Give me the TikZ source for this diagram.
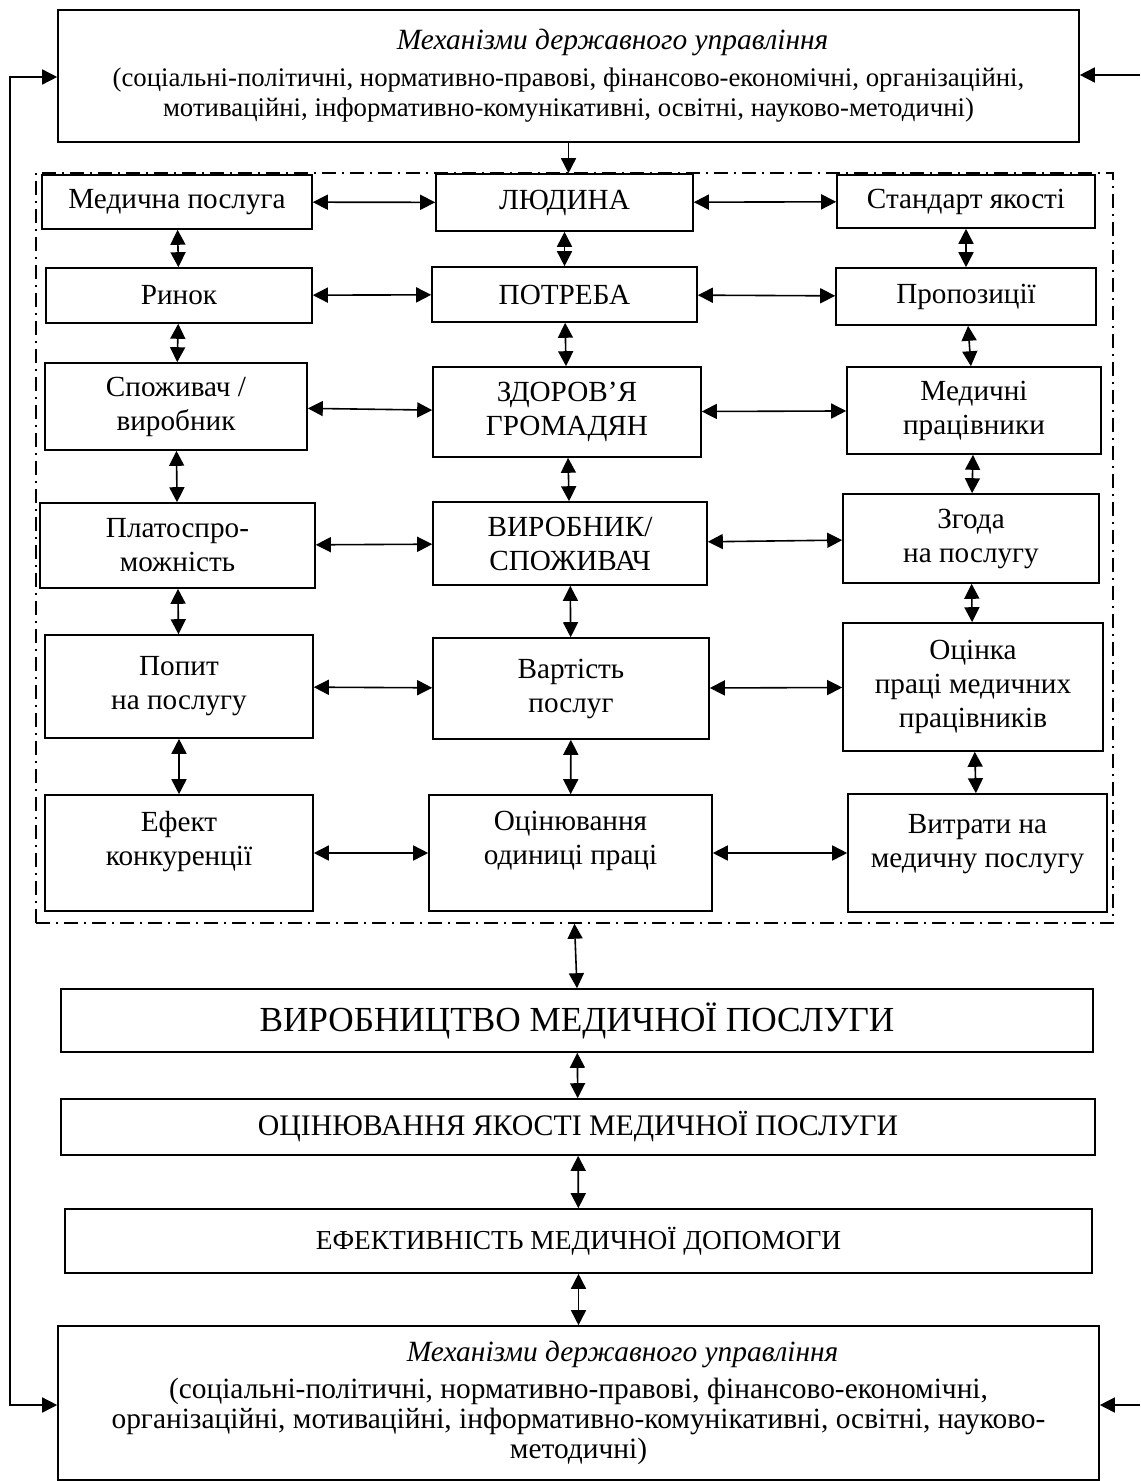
\documentclass[tikz,border=0pt]{standalone}
\usepackage{fontspec}
\setmainfont{Liberation Serif}
\usetikzlibrary{arrows.meta, positioning, calc}

\begin{document}
\begin{tikzpicture}[
    x=0.5pt, y=-0.5pt,
    box/.style={draw, line width=0.8pt, align=center, inner sep=2pt, font=\fontsize{14.6}{17}\selectfont},
    frame/.style={draw, line width=0.7pt, dash pattern=on 7pt off 3pt on 1pt off 3pt, inner sep=0pt},
    link/.style={{Triangle[length=7.5pt,width=7.5pt]}-{Triangle[length=7.5pt,width=7.5pt]}, line width=0.8pt},
    arrow/.style={-{Triangle[length=7.5pt,width=7.5pt]}, line width=0.8pt}
]
    \useasboundingbox (0,0) rectangle (1140,1481);

    % Top mechanisms box
    \node[box, minimum width=510.5pt, minimum height=66pt, font=\fontsize{13.4}{15}\selectfont] (mechtop) at (568.5,76)
        {{\fontsize{14.7}{15}\selectfont\hspace*{3em}\itshape Механізми державного управління}\\[3.5pt]
         (соціальні-політичні, нормативно-правові, фінансово-економічні, організаційні,\\
         мотиваційні, інформативно-комунікативні, освітні, науково-методичні)};

    % Dash-dot zone
    \node[frame, minimum width=538.5pt, minimum height=375pt] (zone) at (574.5,548) {};

    % Left column
    \node[box, minimum width=135pt, minimum height=27pt] (posluga) at (177,202) {Медична послуга};
    \node[box, minimum width=133pt, minimum height=27.5pt] (rynok) at (179,295.5) {Ринок};
    \node[box, minimum width=131pt, minimum height=43.5pt] (spozh) at (176,406.5) {Споживач /\\ виробник};
    \node[box, minimum width=137.5pt, minimum height=42.5pt] (plato) at (177.5,545.5) {Платоспро-\\ можність};
    \node[box, minimum width=134pt, minimum height=51.5pt] (popyt) at (179,686.5) {Попит\\ на послугу};
    \node[box, minimum width=134pt, minimum height=58pt, text depth=15pt] (konk) at (179,853) {Ефект\\ конкуренції};

    % Center column
    \node[box, minimum width=128.5pt, minimum height=28.5pt] (lyudyna) at (564.5,202.5) {ЛЮДИНА};
    \node[box, minimum width=132.5pt, minimum height=27.5pt] (potreba) at (564.5,294.5) {ПОТРЕБА};
    \node[box, minimum width=134pt, minimum height=45pt] (zdorovya) at (567,412) {ЗДОРОВ’Я\\ ГРОМАДЯН};
    \node[box, minimum width=137pt, minimum height=41.5pt] (vyrobnyk) at (570,543.5) {ВИРОБНИК/\\ СПОЖИВАЧ};
    \node[box, minimum width=138pt, minimum height=50.5pt] (vartist) at (571,688.5) {Вартість\\ послуг};
    \node[box, minimum width=141.5pt, minimum height=58pt, text depth=15pt] (odynytsia) at (570.5,853) {Оцінювання\\ одиниці праці};

    % Right column
    \node[box, minimum width=129pt, minimum height=26.5pt] (standart) at (966,201.5) {Стандарт якості};
    \node[box, minimum width=130pt, minimum height=28.5pt] (propoz) at (966,296.5) {Пропозиції};
    \node[box, minimum width=127pt, minimum height=43.5pt] (medprac) at (974,410.5) {Медичні\\ працівники};
    \node[box, minimum width=128pt, minimum height=44.5pt] (zgoda) at (971,538.5) {Згода\\ на послугу};
    \node[box, minimum width=130pt, minimum height=64pt] (otsinka) at (973,687) {Оцінка\\ праці медичних\\ працівників};
    \node[box, minimum width=129.5pt, minimum height=59pt, text depth=12pt] (vytraty) at (977.5,853) {Витрати на\\ медичну послугу};

    % Bottom chain
    \node[box, minimum width=516pt, minimum height=31.5pt, font=\fontsize{17.6}{19}\selectfont] (vyrobnytstvo) at (577,1020.5) {ВИРОБНИЦТВО МЕДИЧНОЇ ПОСЛУГИ};
    \node[box, minimum width=517pt, minimum height=28pt, font=\fontsize{14.9}{17}\selectfont] (yakist) at (578,1127) {ОЦІНЮВАННЯ ЯКОСТІ МЕДИЧНОЇ ПОСЛУГИ};
    \node[box, minimum width=513.5pt, minimum height=32pt, font=\fontsize{13.7}{15}\selectfont] (efekt) at (578.5,1241) {ЕФЕКТИВНІСТЬ МЕДИЧНОЇ ДОПОМОГИ};
    \node[box, minimum width=520.5pt, minimum height=77pt, font=\fontsize{14.7}{15}\selectfont] (mechbot) at (578.5,1403)
        {{\hspace*{3em}\itshape Механізми державного управління}\\[3.5pt]
         (соціальні-політичні, нормативно-правові, фінансово-економічні,\\
         організаційні, мотиваційні, інформативно-комунікативні, освітні, науково-\\
         методичні)};

    % Feedback lines
    \coordinate (fbtop) at (10,77);
    \coordinate (fbbot) at (10,1405);
    \coordinate (rtop) at (1140,75);
    \coordinate (rbot) at (1140,1405);

    % Arrows
    \draw[arrow] (mechtop.south) -- (lyudyna.north -| mechtop.south);

    \draw[link] (posluga) -- (lyudyna);
    \draw[link] (lyudyna) -- (standart);
    \draw[link] (rynok) -- (potreba);
    \draw[link] (potreba) -- (propoz);
    \draw[link] (spozh) -- (zdorovya);
    \draw[link] (zdorovya) -- (medprac);
    \draw[link] (plato) -- (vyrobnyk);
    \draw[link] (vyrobnyk) -- (zgoda);
    \draw[link] (popyt) -- (vartist);
    \draw[link] (vartist) -- (otsinka);
    \draw[link] (konk.east) -- (odynytsia.west);
    \draw[link] (odynytsia.east) -- (vytraty.west);

    \draw[link] (posluga) -- (rynok);
    \draw[link] (rynok) -- (spozh);
    \draw[link] (spozh) -- (plato);
    \draw[link] (plato) -- (popyt);
    \draw[link] (popyt) -- (konk);
    \draw[link] (lyudyna) -- (potreba);
    \draw[link] (potreba) -- (zdorovya);
    \draw[link] (zdorovya) -- (vyrobnyk);
    \draw[link] (vyrobnyk) -- (vartist);
    \draw[link] (vartist) -- (odynytsia);
    \draw[link] (standart) -- (propoz);
    \draw[link] (propoz) -- (medprac);
    \draw[link] (medprac) -- (zgoda);
    \draw[link] (zgoda) -- (otsinka);
    \draw[link] (otsinka) -- (vytraty);

    \draw[link] (zone.south) -- (vyrobnytstvo.north);
    \draw[link] (vyrobnytstvo) -- (yakist);
    \draw[link] (yakist) -- (efekt);
    \draw[link] (efekt) -- (mechbot);

    \draw[link] (mechtop.west |- fbtop) -- (fbtop) -- (fbbot) -- (mechbot.west |- fbbot);
    \draw[arrow] (rtop) -- (mechtop.east |- rtop);
    \draw[arrow] (rbot) -- (mechbot.east |- rbot);
\end{tikzpicture}
\end{document}
